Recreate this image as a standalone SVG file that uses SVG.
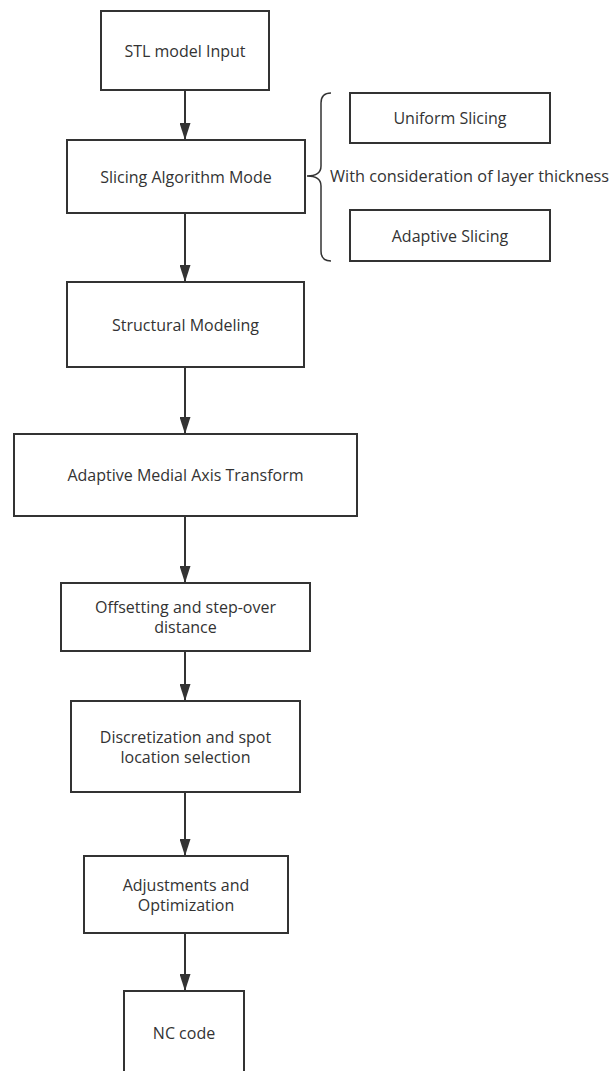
<svg xmlns="http://www.w3.org/2000/svg" width="611" height="1071" viewBox="0 0 611 1071">
<style>
.box{fill:#ffffff;stroke:#333333;stroke-width:2}
.t{font-family:"Open Sans","Noto Sans","Liberation Sans",sans-serif;font-size:16px;fill:#333333;text-anchor:middle;dominant-baseline:central}
.c{stroke:#333333;stroke-width:2;fill:none}
</style>
<defs>
<marker id="ah" markerUnits="userSpaceOnUse" markerWidth="17" markerHeight="11" refX="17" refY="5.5" viewBox="0 0 17 11" orient="auto">
<path d="M0,0 L17,5.5 L0,11 Z" fill="#333333"/>
</marker>
</defs>
<rect width="611" height="1071" fill="#ffffff"/>
<g id="connectors">
<line class="c" x1="185" y1="90" x2="185" y2="140" marker-end="url(#ah)"/>
<line class="c" x1="185" y1="213" x2="185" y2="282" marker-end="url(#ah)"/>
<line class="c" x1="185" y1="367" x2="185" y2="434" marker-end="url(#ah)"/>
<line class="c" x1="185" y1="516" x2="185" y2="583" marker-end="url(#ah)"/>
<line class="c" x1="185" y1="651" x2="185" y2="701" marker-end="url(#ah)"/>
<line class="c" x1="185" y1="792" x2="185" y2="856" marker-end="url(#ah)"/>
<line class="c" x1="185" y1="933" x2="185" y2="991" marker-end="url(#ah)"/>
</g>
<g id="stl">
<rect class="box" x="101" y="11" width="168" height="79"/>
<text class="t" x="185" y="50.5">STL model Input</text>
</g>
<g id="slicing">
<rect class="box" x="67" y="140" width="238" height="73"/>
<text class="t" x="186" y="176.5">Slicing Algorithm Mode</text>
</g>
<g id="brace">
<path class="c" style="stroke-width:1.5" d="M331,93 Q321,93 321,103 L321,166 Q321,176 307,176 Q321,176 321,186 L321,251 Q321,261 331,261"/>
<text class="t" x="330" y="176" style="text-anchor:start;font-size:16.3px">With consideration of layer thickness</text>
</g>
<g id="uniform">
<rect class="box" x="350" y="93" width="200" height="50"/>
<text class="t" x="450" y="118">Uniform Slicing</text>
</g>
<g id="adaptive">
<rect class="box" x="350" y="210" width="200" height="51"/>
<text class="t" x="450" y="235.5">Adaptive Slicing</text>
</g>
<g id="structural">
<rect class="box" x="67" y="282" width="237" height="85"/>
<text class="t" x="185.5" y="324.5">Structural Modeling</text>
</g>
<g id="mat">
<rect class="box" x="14" y="434" width="343" height="82"/>
<text class="t" x="185.5" y="475">Adaptive Medial Axis Transform</text>
</g>
<g id="offset">
<rect class="box" x="61" y="583" width="249" height="68"/>
<text class="t" x="185.5" y="606.5">Offsetting and step-over</text>
<text class="t" x="185.5" y="626.5">distance</text>
</g>
<g id="discret">
<rect class="box" x="71" y="701" width="229" height="91"/>
<text class="t" x="185.5" y="736.5">Discretization and spot</text>
<text class="t" x="185.5" y="756.5">location selection</text>
</g>
<g id="adjust">
<rect class="box" x="84" y="856" width="204" height="77"/>
<text class="t" x="186" y="885">Adjustments and</text>
<text class="t" x="186" y="905">Optimization</text>
</g>
<g id="nc">
<rect class="box" x="124" y="991" width="120" height="100"/>
<text class="t" x="184" y="1033">NC code</text>
</g>
</svg>
